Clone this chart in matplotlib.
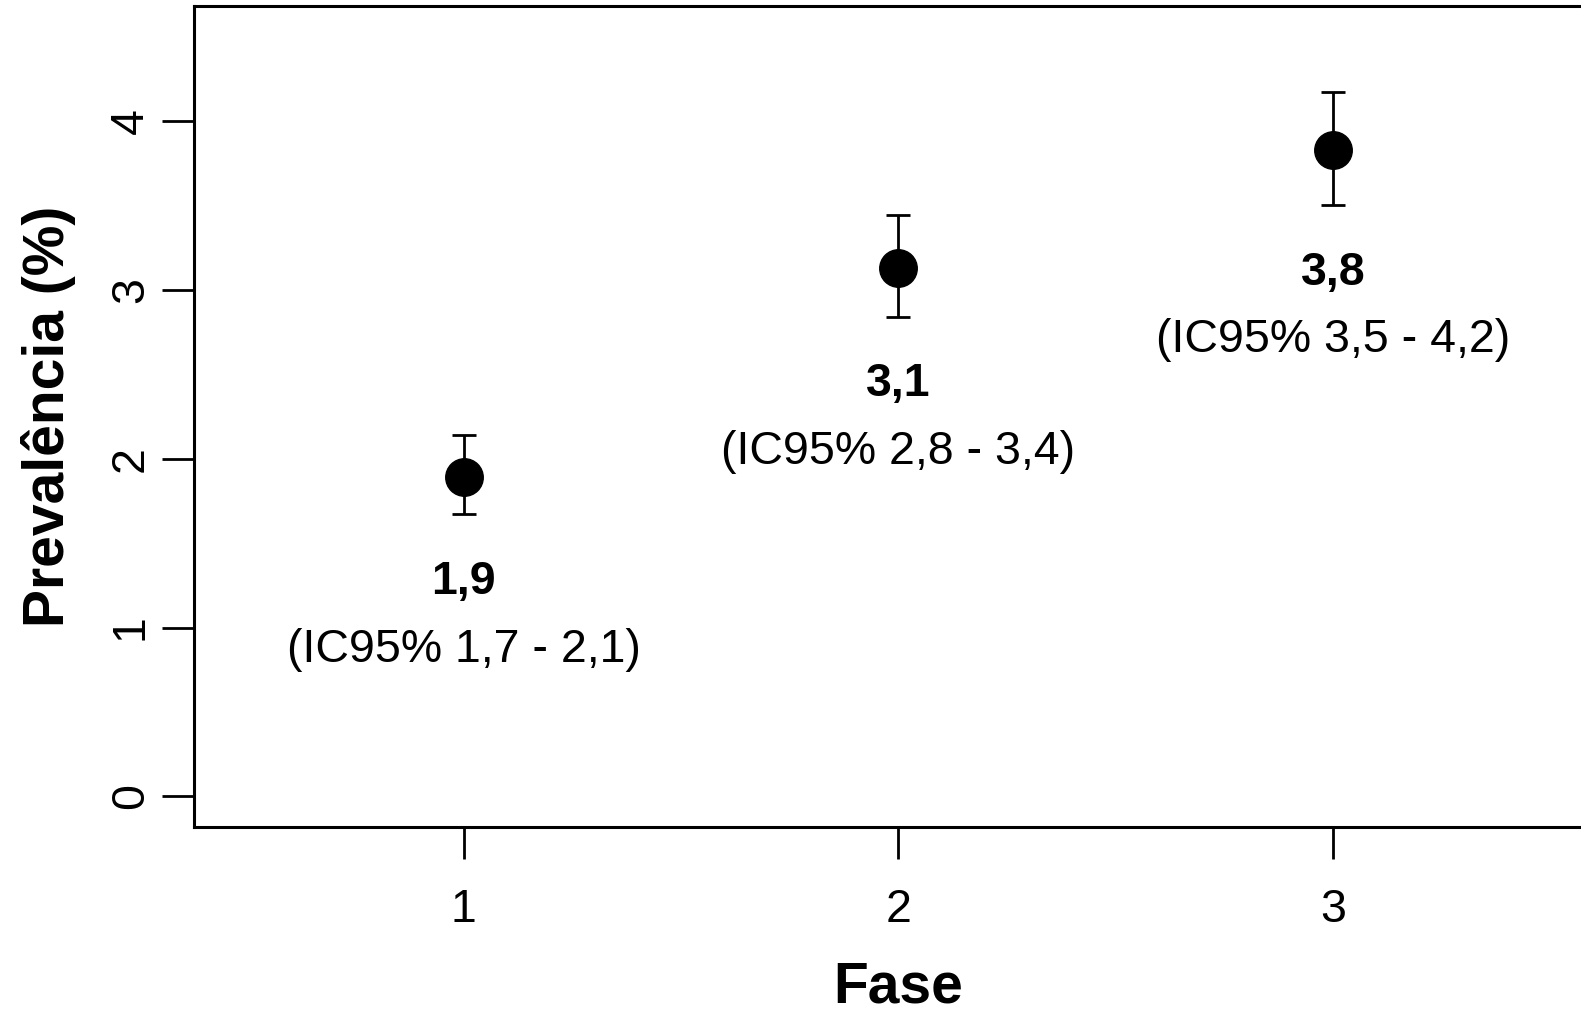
import matplotlib
matplotlib.use("Agg")
import matplotlib.pyplot as plt

plt.rcParams["font.family"] = ["Liberation Sans", "DejaVu Sans"]

fase = [1, 2, 3]
prev = [1.89, 3.13, 3.83]
ic_lo = [1.67, 2.84, 3.50]
ic_hi = [2.14, 3.44, 4.17]
lab_prev = ["1,9", "3,1", "3,8"]
lab_ic = ["(IC95% 1,7 - 2,1)", "(IC95% 2,8 - 3,4)", "(IC95% 3,5 - 4,2)"]

fig = plt.figure(figsize=(15.81, 10.09), dpi=100)
ax = fig.add_axes([0.123, 0.1805, 0.8905, 0.8135])

err = [[p - l for p, l in zip(prev, ic_lo)], [h - p for p, h in zip(prev, ic_hi)]]
ax.errorbar(fase, prev, yerr=err, fmt="o", color="black", ms=27,
            elinewidth=2, capsize=8.5, capthick=2)

for x, lo, a, b in zip(fase, ic_lo, lab_prev, lab_ic):
    ax.text(x, lo - 0.4, a, ha="center", va="center", fontsize=33.5, fontweight="bold")
    ax.text(x, lo - 0.8, b, ha="center", va="center", fontsize=33.5)

ax.set_xlim(0.38, 3.62)
ax.set_ylim(-0.18, 4.68)
ax.set_xticks(fase)
ax.set_yticks([0, 1, 2, 3, 4])
ax.tick_params(axis="both", length=23, width=2, labelsize=33.5)
ax.tick_params(axis="x", pad=21)
ax.tick_params(axis="y", pad=7, labelrotation=90)
for lab in ax.get_yticklabels():
    lab.set_va("center")

for s in ax.spines.values():
    s.set_linewidth(2.2)

ax.set_xlabel("Fase", fontsize=41, fontweight="bold", va="center")
ax.xaxis.set_label_coords(0.5, -0.196)
ax.set_ylabel("Prevalência (%)", fontsize=41, fontweight="bold", va="center")
ax.yaxis.set_label_coords(-0.1035, 0.5)

fig.savefig("out.png", dpi=100)
